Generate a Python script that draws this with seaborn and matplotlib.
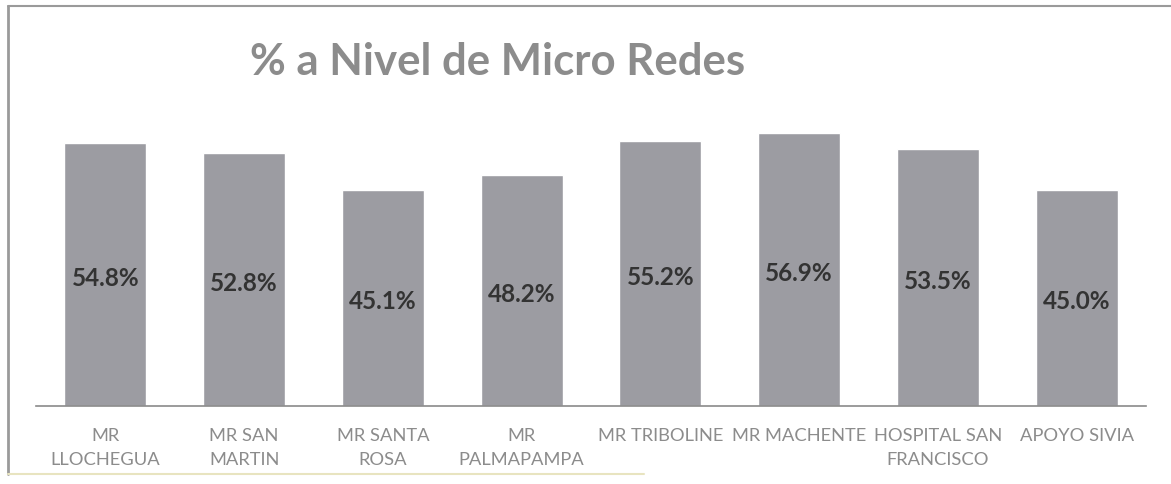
import matplotlib
matplotlib.use("Agg")
import matplotlib.pyplot as plt
import seaborn as sns
import pandas as pd
from matplotlib.lines import Line2D

categories = ["MR LLOCHEGUA", "MR SAN MARTIN", "MR SANTA ROSA", "MR PALMAPAMPA",
              "MR TRIBOLINE", "MR MACHENTE", "HOSPITAL SAN FRANCISCO", "APOYO SIVIA"]
values = [54.8, 52.8, 45.1, 48.2, 55.2, 56.9, 53.5, 45.0]
tick_labels = ["MR\nLLOCHEGUA", "MR SAN\nMARTIN", "MR SANTA\nROSA", "MR\nPALMAPAMPA",
               "MR TRIBOLINE", "MR MACHENTE", "HOSPITAL SAN\nFRANCISCO", "APOYO SIVIA"]
title = "% a Nivel de Micro Redes"

sns.set_theme(style="white")
plt.rcParams['font.family'] = ['Lato', 'DejaVu Sans']

df = pd.DataFrame({"cat": categories, "val": values})

fig = plt.figure(figsize=(11.71, 4.85), dpi=100)
ax = fig.add_axes([0.0307, 0.1608, 0.9480, 0.5938])
sns.barplot(data=df, x="cat", y="val", color="#9c9ca2", width=0.59,
            saturation=1, ax=ax)
ax.set_ylim(0, 60)
ax.set_xlim(-0.5, len(categories) - 0.5)
ax.set_yticks([])
ax.set_xlabel("")
ax.set_ylabel("")
for s in ["top", "right", "left"]:
    ax.spines[s].set_visible(False)
ax.spines["bottom"].set_color("#8a8a8a")
ax.spines["bottom"].set_linewidth(1.2)
ax.set_xticks(range(len(categories)))
ax.set_xticklabels(tick_labels, color="#8c8c8c", fontsize=13.2, linespacing=1.6)
ax.tick_params(axis="x", length=0, pad=15)

for i, v in enumerate(values):
    ax.text(i, v / 2 - 0.6, f"{v:.1f}%", ha="center", va="center",
            fontsize=17.5, fontweight="bold", color="#333333")

fig.text(0.4245, 0.872, title, ha="center", va="center", fontsize=31.5,
         fontweight="bold", color="#8c8c8c")

# scanned-page frame lines
fig.add_artist(Line2D([0.007, 0.007], [0.02, 0.985], transform=fig.transFigure,
                      color="#9a9a9a", lw=2))
fig.add_artist(Line2D([0.007, 1.0], [0.985, 0.985], transform=fig.transFigure,
                      color="#9a9a9a", lw=1.5))
fig.add_artist(Line2D([0.007, 0.55], [0.02, 0.02], transform=fig.transFigure,
                      color="#e8e4c0", lw=1.5))

fig.savefig("out.png", dpi=100, facecolor="white")
